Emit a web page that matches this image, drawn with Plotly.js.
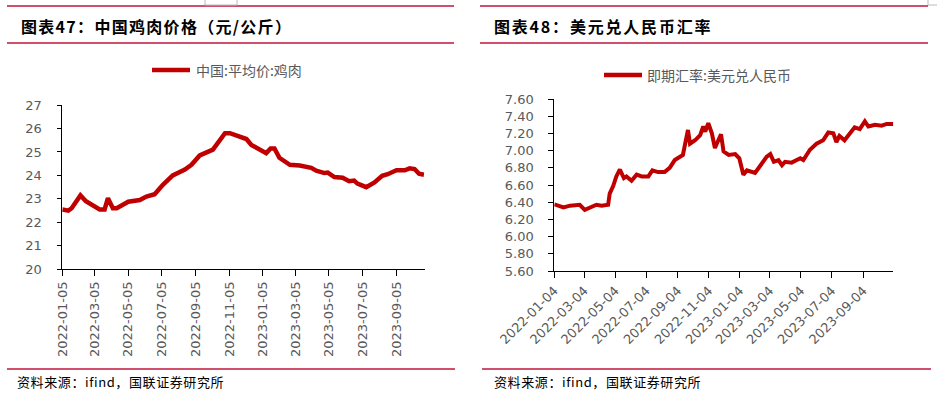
<!DOCTYPE html>
<html>
<head>
<meta charset="utf-8">
<script src="https://cdn.plot.ly/plotly-3.0.1.min.js"></script>
<style>html,body{margin:0;padding:0;background:#fff;}#chart{width:937px;height:396px;}</style>
</head>
<body>
<div id="chart"></div>
<script>
// ---- Data: chicken price (元/公斤) ----
const chickenDates = ['2022-01-05','2022-01-16','2022-01-22','2022-02-07','2022-02-17','2022-03-08','2022-03-14','2022-03-23','2022-03-29','2022-04-07','2022-04-14','2022-05-05','2022-05-26','2022-06-07','2022-06-22','2022-07-07','2022-07-25','2022-08-16','2022-08-28','2022-09-12','2022-10-06','2022-10-28','2022-11-06','2022-12-06','2022-12-15','2023-01-11','2023-01-19','2023-01-26','2023-02-04','2023-02-23','2023-03-13','2023-04-03','2023-04-12','2023-04-27','2023-05-03','2023-05-15','2023-05-30','2023-06-11','2023-06-20','2023-06-26','2023-07-12','2023-07-27','2023-08-10','2023-08-20','2023-09-05','2023-09-20','2023-09-29','2023-10-08','2023-10-16','2023-10-25'];
const chickenPrice = [22.55,22.50,22.60,23.15,22.90,22.60,22.55,22.55,23.03,22.60,22.60,22.88,22.95,23.10,23.20,23.60,24.00,24.25,24.45,24.85,25.10,25.80,25.80,25.55,25.30,24.95,25.15,25.15,24.75,24.45,24.42,24.32,24.20,24.10,24.12,23.93,23.90,23.75,23.78,23.65,23.50,23.70,23.98,24.05,24.22,24.22,24.30,24.27,24.07,24.03];
const chickenTicks = ['2022-01-05','2022-03-05','2022-05-05','2022-07-05','2022-09-05','2022-11-05','2023-01-05','2023-03-05','2023-05-05','2023-07-05','2023-09-05'];
const chickenName = '中国:平均价:鸡肉';

// ---- Data: USD/CNY spot ----
const fxDates = ['2022-01-04','2022-01-22','2022-02-04','2022-02-23','2022-03-05','2022-03-28','2022-04-07','2022-04-20','2022-04-23','2022-04-30','2022-05-06','2022-05-13','2022-05-21','2022-05-26','2022-06-05','2022-06-15','2022-06-25','2022-07-08','2022-07-16','2022-07-27','2022-08-09','2022-08-19','2022-08-29','2022-09-09','2022-09-14','2022-09-24','2022-09-28','2022-10-08','2022-10-18','2022-10-24','2022-10-28','2022-11-03','2022-11-10','2022-11-16','2022-11-23','2022-11-28','2022-12-03','2022-12-13','2022-12-26','2023-01-03','2023-01-11','2023-01-18','2023-02-03','2023-02-13','2023-02-26','2023-03-05','2023-03-12','2023-03-21','2023-03-28','2023-04-03','2023-04-16','2023-04-26','2023-05-03','2023-05-09','2023-05-22','2023-06-04','2023-06-17','2023-06-27','2023-07-07','2023-07-13','2023-07-19','2023-07-29','2023-08-08','2023-08-18','2023-08-28','2023-09-07','2023-09-14','2023-09-27','2023-10-10','2023-10-20','2023-11-02'];
const fxRate = [6.375,6.34,6.36,6.37,6.31,6.37,6.36,6.37,6.50,6.59,6.70,6.78,6.68,6.70,6.65,6.72,6.70,6.70,6.77,6.75,6.75,6.80,6.89,6.93,6.95,7.24,7.08,7.12,7.18,7.28,7.22,7.32,7.20,7.03,7.14,7.19,6.99,6.95,6.96,6.91,6.72,6.77,6.74,6.82,6.93,6.96,6.87,6.89,6.83,6.87,6.86,6.89,6.91,6.89,7.01,7.08,7.12,7.21,7.20,7.10,7.17,7.12,7.20,7.27,7.25,7.34,7.28,7.30,7.29,7.31,7.31];
const fxTicks = ['2022-01-04','2022-03-04','2022-05-04','2022-07-04','2022-09-04','2022-11-04','2023-01-04','2023-03-04','2023-05-04','2023-07-04','2023-09-04'];
const fxName = '即期汇率:美元兑人民币';

const titles = ['图表47：中国鸡肉价格（元/公斤）','图表48：美元兑人民币汇率'];
const sourceText = '资料来源：ifind，国联证券研究所';

// ---- Layout helpers ----
const W = 937, H = 396;
const px = v => v / W;
const py = v => 1 - v / H;
const RED = '#C00000';
const RULE = '#C0143C';
const GRAY = '#595959';
const tickFont = {family: 'DejaVu Sans, Verdana, sans-serif', size: 13, color: GRAY};
const cjk = 'Noto Sans CJK SC, sans-serif';

const traces = [
  {x: chickenDates, y: chickenPrice, type: 'scatter', mode: 'lines', name: chickenName,
   line: {color: RED, width: 4.5}, xaxis: 'x', yaxis: 'y', showlegend: false},
  {x: fxDates, y: fxRate, type: 'scatter', mode: 'lines', name: fxName,
   line: {color: RED, width: 4}, xaxis: 'x2', yaxis: 'y2', showlegend: false}
];

const axisCommon = {showline: true, linecolor: '#000', linewidth: 1, ticks: 'outside',
  tickcolor: '#000', ticklen: 5, tickwidth: 1, showgrid: false, zeroline: false,
  tickfont: tickFont, fixedrange: true};

const layout = {
  width: W, height: H,
  margin: {l: 0, r: 0, t: 0, b: 0},
  paper_bgcolor: '#fff', plot_bgcolor: '#fff',
  showlegend: false,
  xaxis: Object.assign({}, axisCommon, {
    type: 'date', domain: [px(62.3), px(424.5)], anchor: 'y',
    range: ['2022-01-05', '2023-10-26'],
    tickmode: 'array', tickvals: chickenTicks, ticktext: chickenTicks,
    tickangle: -90, ticklen: 6
  }),
  yaxis: Object.assign({}, axisCommon, {
    domain: [py(269.3), py(105)], anchor: 'x',
    range: [20, 27], dtick: 1, tick0: 20, ticklen: 4, ticklabelstandoff: 13
  }),
  xaxis2: Object.assign({}, axisCommon, {
    type: 'date', domain: [px(554.3), px(893.3)], anchor: 'y2',
    range: ['2022-01-04', '2023-11-02'],
    tickmode: 'array', tickvals: fxTicks, ticktext: fxTicks,
    tickangle: -45, ticklen: 6
  }),
  yaxis2: Object.assign({}, axisCommon, {
    domain: [py(271), py(99)], anchor: 'x2',
    range: [5.6, 7.6], dtick: 0.2, tick0: 5.6, tickformat: '.2f', ticklen: 5, ticklabelstandoff: 12
  }),
  shapes: [
    // header/footer rules
    {type: 'line', xref: 'paper', yref: 'paper', x0: px(7), x1: px(454), y0: py(6), y1: py(6), line: {color: RULE, width: 1.5}},
    {type: 'line', xref: 'paper', yref: 'paper', x0: px(7), x1: px(454), y0: py(43), y1: py(43), line: {color: RULE, width: 1.5}},
    {type: 'line', xref: 'paper', yref: 'paper', x0: px(480), x1: px(928), y0: py(6), y1: py(6), line: {color: RULE, width: 1.5}},
    {type: 'line', xref: 'paper', yref: 'paper', x0: px(480), x1: px(928), y0: py(43), y1: py(43), line: {color: RULE, width: 1.5}},
    {type: 'line', xref: 'paper', yref: 'paper', x0: px(7), x1: px(455), y0: py(369), y1: py(369), line: {color: RULE, width: 1.5}},
    {type: 'line', xref: 'paper', yref: 'paper', x0: px(482), x1: px(931), y0: py(369), y1: py(369), line: {color: RULE, width: 1.5}},
    // small gray marks at top
    {type: 'path', xref: 'paper', yref: 'paper', path: `M ${px(205)} ${py(0)} L ${px(205)} ${py(5)} L ${px(237)} ${py(5)} L ${px(237)} ${py(0)}`, line: {color: '#BBBBBB', width: 1}},
    {type: 'path', xref: 'paper', yref: 'paper', path: `M ${px(928)} ${py(0)} L ${px(928)} ${py(5)} L ${px(937)} ${py(5)}`, line: {color: '#BBBBBB', width: 1}},
    // legend samples
    {type: 'line', xref: 'paper', yref: 'paper', x0: px(152), x1: px(190), y0: py(70), y1: py(70), line: {color: RED, width: 4.5}},
    {type: 'line', xref: 'paper', yref: 'paper', x0: px(604), x1: px(642), y0: py(75), y1: py(75), line: {color: RED, width: 4.5}}
  ],
  annotations: [
    {xref: 'paper', yref: 'paper', x: px(19), y: py(26), xanchor: 'left', yanchor: 'middle', showarrow: false,
     text: '<b>' + titles[0] + '</b>', font: {family: cjk, size: 16, color: '#000'}},
    {xref: 'paper', yref: 'paper', x: px(492), y: py(26), xanchor: 'left', yanchor: 'middle', showarrow: false,
     text: '<b>' + titles[1] + '</b>', font: {family: cjk, size: 16, color: '#000'}},
    {xref: 'paper', yref: 'paper', x: px(194), y: py(70), xanchor: 'left', yanchor: 'middle', showarrow: false,
     text: chickenName, font: {family: cjk, size: 14, color: GRAY}},
    {xref: 'paper', yref: 'paper', x: px(645), y: py(75), xanchor: 'left', yanchor: 'middle', showarrow: false,
     text: fxName, font: {family: cjk, size: 14, color: GRAY}},
    {xref: 'paper', yref: 'paper', x: px(15), y: py(381), xanchor: 'left', yanchor: 'middle', showarrow: false,
     text: sourceText, font: {family: cjk, size: 13, color: '#000'}},
    {xref: 'paper', yref: 'paper', x: px(492), y: py(381), xanchor: 'left', yanchor: 'middle', showarrow: false,
     text: sourceText, font: {family: cjk, size: 13, color: '#000'}}
  ]
};

Plotly.newPlot('chart', traces, layout, {displayModeBar: false, staticPlot: true}).then(() => {
  const ann = document.querySelectorAll('#chart .annotation-text');
  const spacing = ['1.3px', '1.8px', '0px', '0px', '0.6px', '0.6px'];
  ann.forEach((el, i) => {
    if (!spacing[i] || spacing[i] === '0px') return;
    const before = el.getBBox();
    el.style.letterSpacing = spacing[i];
    const after = el.getBBox();
    const dx = before.x - after.x;
    el.setAttribute('transform', 'translate(' + dx + ',0)');
  });
});
</script>
</body>
</html>
